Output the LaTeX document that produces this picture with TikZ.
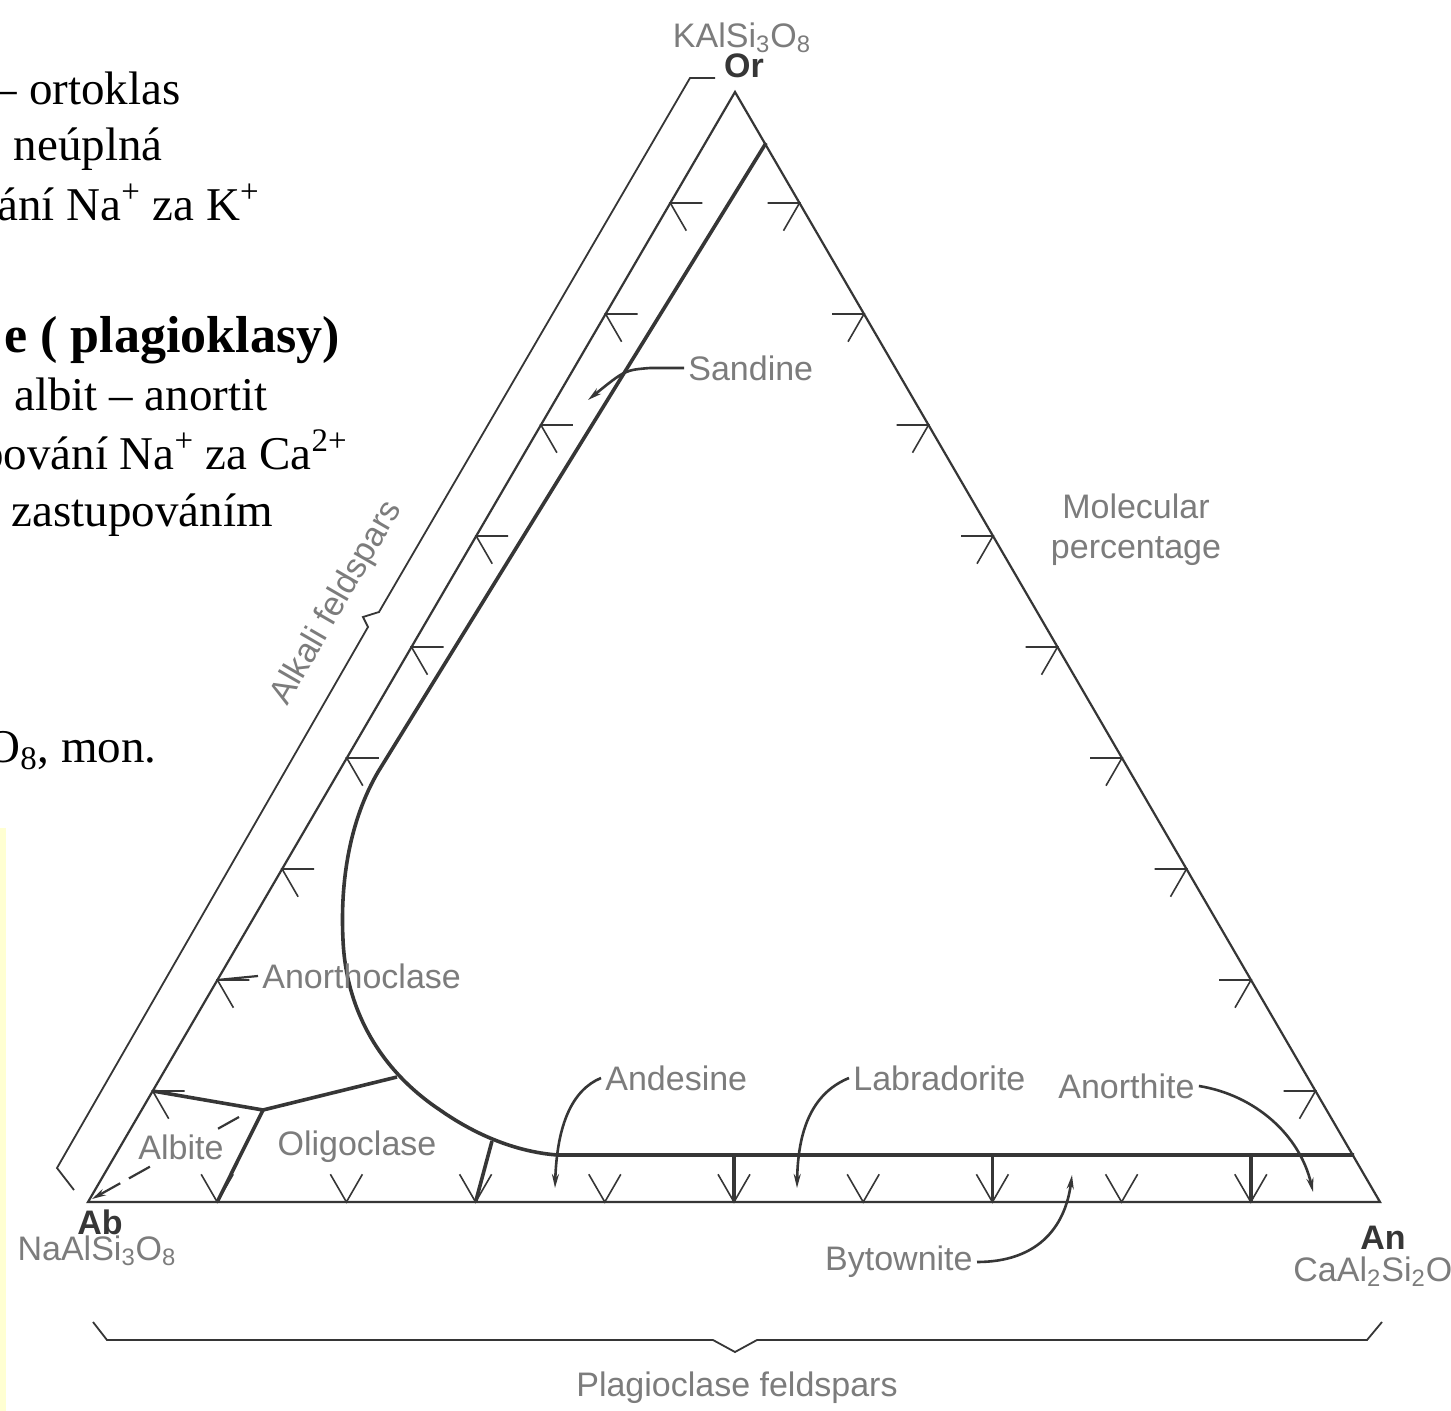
\documentclass[tikz,border=0pt]{standalone}
\usepackage{fontspec}
\setmainfont{Liberation Serif}
\newfontfamily\figfont{Liberation Sans}
\usetikzlibrary{arrows.meta,calc}
\definecolor{inkline}{HTML}{363636}
\definecolor{inklabel}{HTML}{7C7C7C}
\definecolor{stripyellow}{HTML}{FFFFD2}
\newcommand\Czech{\fontsize{23.5}{28}\selectfont}
\newcommand\Fig{\figfont\fontsize{17}{20}\selectfont}

\begin{document}
\begin{tikzpicture}[x=0.5pt,y=-0.5pt,
  edge/.style={draw=inkline,line width=1.1pt},
  bound/.style={draw=inkline,line width=1.8pt},
  tick/.style={draw=inkline,line width=0.8pt},
  ptr/.style={draw=inkline,line width=1.3pt,-{Stealth[length=7pt,width=3.5pt]}},
  fig/.style={font=\Fig,text=inklabel,inner sep=2pt},
  apex/.style={font=\Fig\bfseries,text=inkline,inner sep=1pt},
  slide/.style={font=\Czech,inner sep=0pt,anchor=base east}]
\useasboundingbox (0,0) rectangle (1451,1411);
\fill[white] (0,0) rectangle (1451,1411);
\clip (0,0) rectangle (1451,1411);
% Slide text, cut at the left border
\node[slide] (t1) at (181,105) {– ortoklas};
\node[slide] (t2) at (163,161) {neúplná};
\node[slide] (t3) at (260,221) {vání Na\textsuperscript{+} za K\textsuperscript{+}};
\node[slide,font=\fontsize{26}{30}\selectfont\bfseries] (t4) at (340,353) {e ( plagioklasy)};
\node[slide] (t5) at (268,411) {albit – anortit};
\node[slide] (t6) at (348,470) {pování Na\textsuperscript{+} za Ca\textsuperscript{2+}};
\node[slide] (t7) at (273,527) {zastupováním};
\node[slide] (t8) at (157,762) {O\textsubscript{8}, mon.};
\fill[stripyellow] (0,828) rectangle (6,1411);
% Drawing the triangle
\coordinate (Or) at (735,92);
\coordinate (Ab) at (88,1202);
\coordinate (An) at (1380,1202);
\draw[edge] (Or) -- (Ab) -- (An) -- cycle;
% Ticks every 10 per cent
\foreach \k in {1,...,9}{
  \coordinate (L\k) at ($(Or)!\k/10!(Ab)$);
  \coordinate (R\k) at ($(Or)!\k/10!(An)$);
  \coordinate (B\k) at ($(Ab)!\k/10!(An)$);
  \draw[tick] ($(L\k)+(32,0)$) -- (L\k) -- ++(16,27.7);
  \draw[tick] ($(R\k)+(-32,0)$) -- (R\k) -- ++(-16,27.7);
  \draw[tick] ($(B\k)+(-16,-27.7)$) -- (B\k) -- ++(16,-27.7);
}
% Field boundaries
\coordinate (sanTop) at (766,143);
\coordinate (bend) at (378,772);
\coordinate (plagL) at (557,1155);
\coordinate (plagR) at (1354,1155);
\coordinate (olig) at (263,1110);
\coordinate (anoEnd) at (397,1077);
\draw[bound] (sanTop) -- (bend) .. controls (350,820) and (340,880) .. (343,940)
  .. controls (346,1010) and (380,1070) .. (440,1110)
  .. controls (480,1138) and (520,1152) .. (plagL) -- (plagR);
\draw[bound] (L9) -- (olig) -- (anoEnd);
\draw[bound] (olig) -- (B1);
\draw[bound] (492,1141) -- (B3);
\foreach \k in {5,7,9} \draw[bound] (B\k |- plagL) -- (B\k);
% Braces
\coordinate (alkTop) at (690,78);
\coordinate (alkBot) at (57,1168);
\draw[edge,line width=0.9pt] (715,78) -- (alkTop) -- (379,612) -- (363,617) -- (368,627) -- (alkBot) -- (74,1190);
\draw[edge,line width=0.9pt] (93,1322) -- (107,1340) -- (713,1340) -- (735,1352) -- (757,1340) -- (1367,1340) -- (1382,1322);
% Labels at the corners
\node[fig] (orFormula) at (742,38) {KAlSi\textsubscript{3}O\textsubscript{8}};
\node[apex] (orLabel) at (744,66) {Or};
\node[apex] (abLabel) at (100,1222) {Ab};
\node[fig] (abFormula) at (97,1251) {NaAlSi\textsubscript{3}O\textsubscript{8}};
\node[apex] (anLabel) at (1383,1238) {An};
\node[fig,anchor=west] (anFormula) at (1289,1272) {CaAl\textsubscript{2}Si\textsubscript{2}O\textsubscript{8}};
\node[fig] (plagLabel) at (737,1388) {Plagioclase feldspars};
\node[fig,align=center] (molLabel) at (1136,530) {Molecular\\percentage};
\node[fig,rotate=60] (alkLabel) at (337,603) {Alkali feldspars};
% Field names and pointers
\node[fig,anchor=west] (sandine) at (684,368) {Sandine};
\node[fig,anchor=west] (anorthoclase) at (258,976) {Anorthoclase};
\node[fig,anchor=west] (andesine) at (601,1078) {Andesine};
\node[fig,anchor=west] (labradorite) at (849,1078) {Labradorite};
\node[fig,anchor=west] (anorthite) at (1054,1086) {Anorthite};
\node[fig,anchor=east] (bytownite) at (977,1262) {Bytownite};
\node[fig] (oligoclase) at (357,1147) {Oligoclase};
\coordinate (sanTip) at (588,400);
\coordinate (andTip) at (555,1188);
\coordinate (labTip) at (797,1188);
\coordinate (anoTip) at (1313,1192);
\coordinate (bytTip) at (1072,1175);
\coordinate (albTip) at (92,1199);
\draw[ptr] (sandine.west) -- (650,368) .. controls (625,370) .. (sanTip);
\draw[edge] (anorthoclase.west) -- (L8);
\draw[ptr] (andesine.west) .. controls (572,1090) and (557,1125) .. (andTip);
\draw[ptr] (labradorite.west) .. controls (815,1092) and (798,1125) .. (labTip);
\draw[ptr] (anorthite.east) .. controls (1255,1095) and (1300,1135) .. (anoTip);
\draw[ptr] (bytownite.east) .. controls (1035,1262) and (1065,1230) .. (bytTip);
\draw[ptr,line width=1.1pt,dash pattern=on 12pt off 5pt] (olig) ++(-24,7) -- (albTip);
\node[fig,fill=white] (albite) at (181,1147) {Albite};
% Done with labels
\end{tikzpicture}
\end{document}
